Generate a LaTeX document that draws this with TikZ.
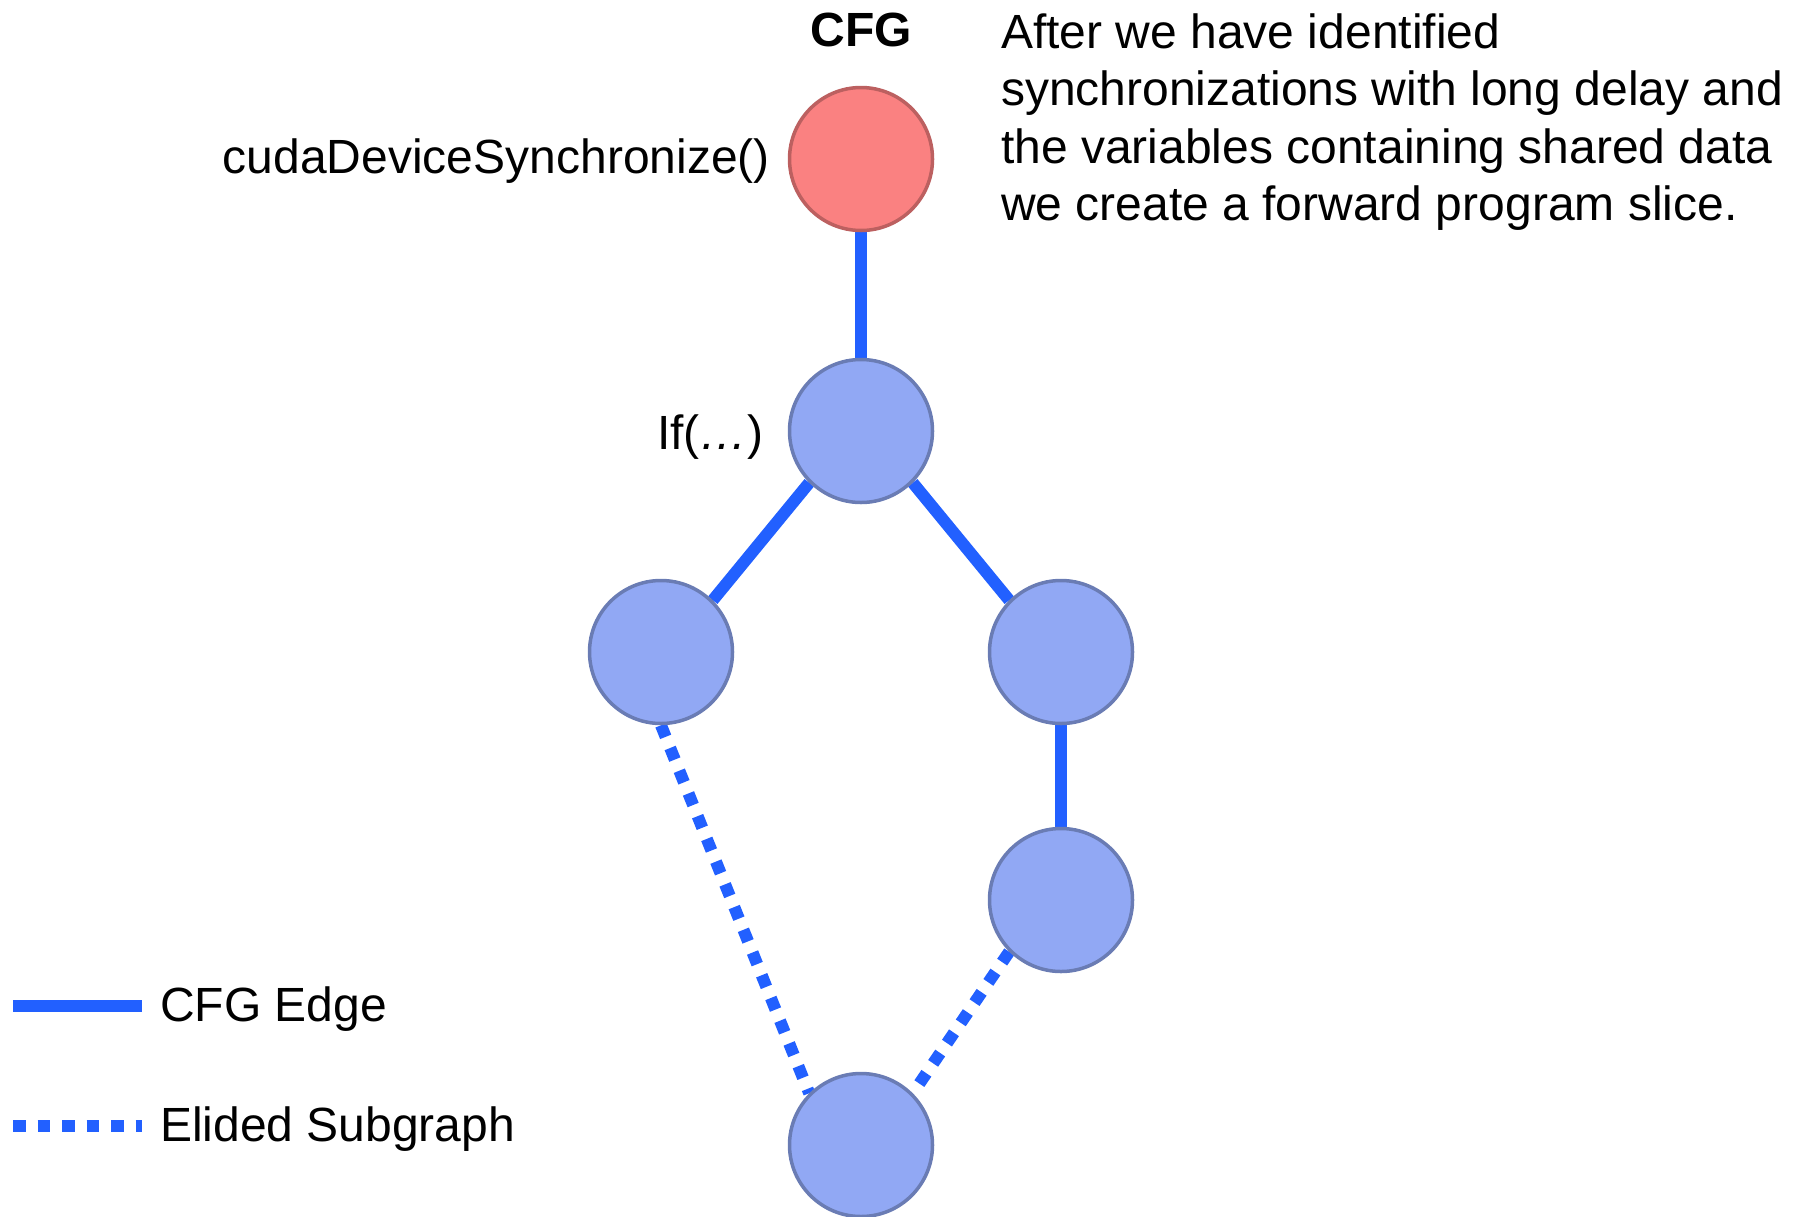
\documentclass[tikz,border=0pt]{standalone}
\usepackage{fontspec}
\setmainfont{Liberation Sans}
\pgfdeclarelayer{background}
\pgfsetlayers{background,main}

\definecolor{edgeblue}{HTML}{2260FF}
\definecolor{nodefill}{HTML}{91A8F4}
\definecolor{nodeline}{HTML}{6A7CB4}
\definecolor{syncfill}{HTML}{FA8181}
\definecolor{syncline}{HTML}{BC6060}

\tikzset{
  block/.style={circle, minimum size=143pt, inner sep=0pt, line width=3.5pt,
                draw=nodeline, fill=nodefill},
  syncblock/.style={block, draw=syncline, fill=syncfill},
  cfgedge/.style={draw=edgeblue, line width=12pt},
  elided/.style={draw=edgeblue, line width=12pt, dash pattern=on 12.5pt off 12pt},
  label text/.style={inner sep=0pt, font=\fontsize{48}{57.5}\selectfont},
}

\begin{document}
\begin{tikzpicture}[x=1pt, y=-1pt]
  \useasboundingbox (0,0) rectangle (1796,1216);

  % control-flow graph blocks
  \node[syncblock] (sync) at (861,159) {};
  \node[block] (cond)  at (861,431) {};
  \node[block] (left)  at (661,652) {};
  \node[block] (right) at (1061,652) {};
  \node[block] (rlow)  at (1061,900) {};
  \node[block] (join)  at (861,1145) {};

  % edges behind the blocks
  \begin{pgfonlayer}{background}
    \draw[cfgedge] (sync.center) -- (cond.center);
    \draw[cfgedge] (cond.south west) -- (left.north east);
    \draw[cfgedge] (cond.south east) -- (right.north west);
    \draw[cfgedge] (right.center) -- (rlow.center);
    \draw[elided] (left.south) -- (join.north west);
    \draw[elided] (rlow.south west) -- (join.north east);
  \end{pgfonlayer}

  % labels
  \node[label text, font=\fontsize{48}{57.5}\selectfont\bfseries, anchor=base]
    (title) at (861,46) {CFG};
  \node[label text, anchor=base east] (synclabel) at (770,173) {cudaDeviceSynchronize()};
  \node[label text, anchor=base east] (condlabel) at (764,449) {If(\textit{…})};

  % explanatory paragraph
  \node[label text, anchor=base west] (p1) at (1001,48)    {After we have identified};
  \node[label text, anchor=base west] (p2) at (1001,105.5) {synchronizations with long delay and};
  \node[label text, anchor=base west] (p3) at (1001,163)   {the variables containing shared data};
  \node[label text, anchor=base west] (p4) at (1001,220.5) {we create a forward program slice.};

  % legend
  \coordinate (solidA) at (13,1006);
  \coordinate (solidB) at (142,1006);
  \coordinate (dotA) at (13,1126);
  \coordinate (dotB) at (142,1126);
  \draw[cfgedge] (solidA) -- (solidB);
  \draw[elided] (dotA) -- (dotB);
  \node[label text, anchor=base west] (legsolid) at (160,1021) {CFG Edge};
  \node[label text, anchor=base west] (legdot) at (160,1141) {Elided Subgraph};
\end{tikzpicture}
\end{document}
